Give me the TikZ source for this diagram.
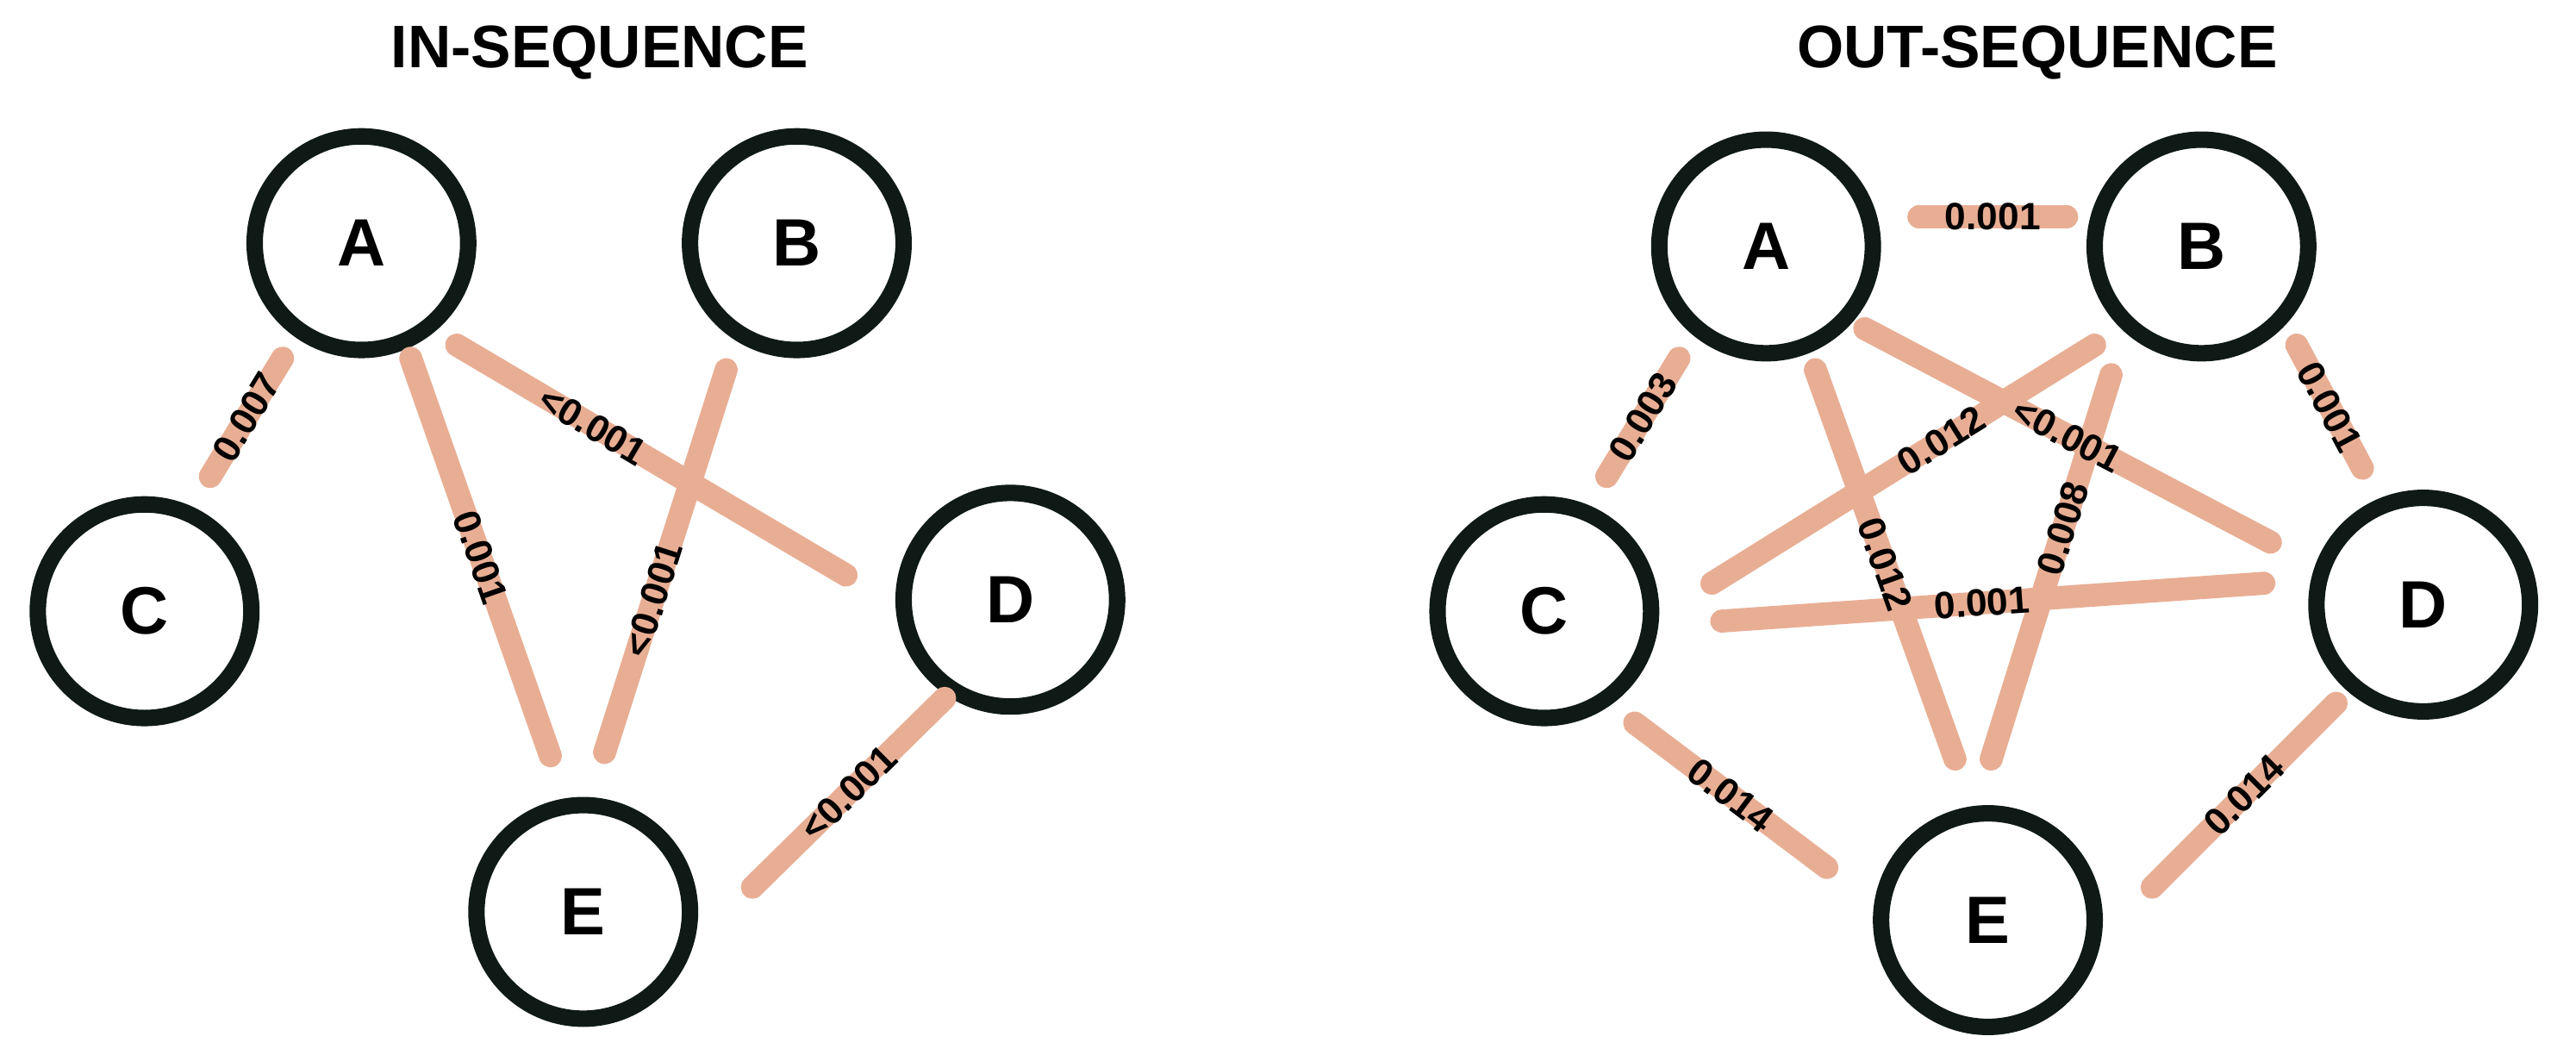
\documentclass[tikz,border=0pt]{standalone}
\usepackage{fontspec}
\setmainfont{Liberation Sans}
\usetikzlibrary{calc}
\definecolor{edgec}{HTML}{E8AE94}
\definecolor{ringc}{HTML}{0F1A17}
\begin{document}
\begin{tikzpicture}[x=0.05cm,y=-0.05cm,
  vert/.style={circle,draw=ringc,line width=0.5cm,minimum size=6.5cm,inner sep=0,outer sep=0,font=\fontsize{58}{60}\selectfont\bfseries},
  edge/.style={draw=edgec,line width=0.7cm,line cap=round},
  lab/.style={font=\fontsize{33}{35}\selectfont\bfseries,sloped,inner sep=0,text=black},
  ttl/.style={font=\fontsize{52}{54}\selectfont\bfseries}]
\useasboundingbox (0,0) rectangle (1568,642);
\node[ttl] (t1) at (365,32) {IN-SEQUENCE};
\node[ttl] (t2) at (1240,32) {OUT-SEQUENCE};
% left
\node[vert] (A) at (220,148) {A};
\node[vert] (B) at (485,148) {B};
\node[vert] (C) at (88,372) {C};
\node[vert] (D) at (615,365) {D};
\node[vert] (E) at (355,555) {E};
\draw[edge] ($(A)+(-48,70)$) -- node[lab]{0.007} ($(C)+(40,-82)$);
\draw[edge] ($(A)+(30,70)$) -- node[lab]{0.001} ($(E)+(-20,-95)$);
\draw[edge] ($(A)+(58,62)$) -- ($(D)+(-100,-15)$);
\draw[edge] ($(B)+(-43,77)$) -- ($(E)+(13,-97)$);
\path ($(A)+(58,62)$) -- node[lab,pos=0.35]{<0.001} ($(D)+(-100,-15)$);
\path ($(B)+(-43,77)$) -- node[lab,pos=0.6]{<0.001} ($(E)+(13,-97)$);
\draw[edge] ($(D)+(-40,60)$) -- node[lab]{<0.001} ($(E)+(103,-15)$);
% right
\node[vert] (A2) at (1075,150) {A};
\node[vert] (B2) at (1340,150) {B};
\node[vert] (C2) at (940,372) {C};
\node[vert] (D2) at (1475,368) {D};
\node[vert] (E2) at (1210,560) {E};
\draw[edge] ($(A2)+(93,-18)$) -- ($(B2)+(-82,-18)$);
\draw[edge] ($(A2)+(-53,68)$) -- ($(C2)+(38,-82)$);
\draw[edge] ($(A2)+(60,50)$) -- ($(D2)+(-93,-38)$);
\draw[edge] ($(A2)+(30,75)$) -- ($(E2)+(-20,-98)$);
\draw[edge] ($(B2)+(-65,60)$) -- ($(C2)+(102,-17)$);
\draw[edge] ($(B2)+(58,60)$) -- ($(D2)+(-37,-83)$);
\draw[edge] ($(B2)+(-55,78)$) -- ($(E2)+(2,-98)$);
\draw[edge] ($(C2)+(108,6)$) -- ($(D2)+(-97,-13)$);
\draw[edge] ($(C2)+(55,68)$) -- ($(E2)+(-98,-32)$);
\draw[edge] ($(D2)+(-53,60)$) -- ($(E2)+(100,-20)$);
\path ($(A2)+(93,-18)$) -- node[lab]{0.001} ($(B2)+(-82,-18)$);
\path ($(A2)+(-53,68)$) -- node[lab]{0.003} ($(C2)+(38,-82)$);
\path ($(A2)+(60,50)$) -- node[lab]{<0.001} ($(D2)+(-93,-38)$);
\path ($(A2)+(30,75)$) -- node[lab]{0.012} ($(E2)+(-20,-98)$);
\path ($(B2)+(-65,60)$) -- node[lab,pos=0.4]{0.012} ($(C2)+(102,-17)$);
\path ($(B2)+(58,60)$) -- node[lab]{0.001} ($(D2)+(-37,-83)$);
\path ($(B2)+(-55,78)$) -- node[lab,pos=0.4]{0.008} ($(E2)+(2,-98)$);
\path ($(C2)+(108,6)$) -- node[lab,pos=0.48]{0.001} ($(D2)+(-97,-13)$);
\path ($(C2)+(55,68)$) -- node[lab]{0.014} ($(E2)+(-98,-32)$);
\path ($(D2)+(-53,60)$) -- node[lab]{0.014} ($(E2)+(100,-20)$);
\end{tikzpicture}
\end{document}
